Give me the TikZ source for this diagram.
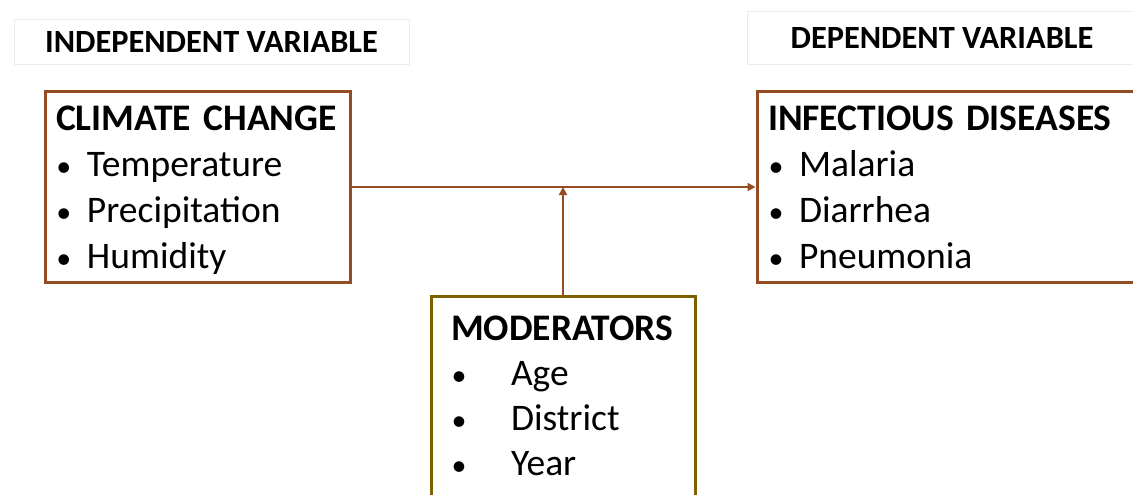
\documentclass[tikz,border=0pt]{standalone}
\usepackage{fontspec}
\setmainfont{Carlito}
\usetikzlibrary{arrows.meta,positioning}

\definecolor{boxbrown}{RGB}{150,76,34}
\definecolor{modgold}{RGB}{127,96,0}
\definecolor{hdrgray}{RGB}{236,236,236}

% bullet with a fixed indent
\newcommand{\blt}[1]{\makebox[#1][l]{\hspace{0.5pt}{\fontsize{30}{30}\selectfont\textbullet}}}
% line without descender depth
\newcommand{\nodp}[1]{\raisebox{0pt}[\height][0pt]{#1}}

\begin{document}
\begin{tikzpicture}[
  x=1pt, y=-1pt,
  hdr/.style={draw=hdrgray, line width=0.8pt, font=\fontsize{32.4}{34}\selectfont\bfseries},
  varbox/.style={draw=boxbrown, line width=3pt, align=left, inner xsep=11pt,
    font=\fontsize{37.5}{46}\selectfont},
  modbox/.style={varbox, draw=modgold},
  arr/.style={-{Triangle[length=8pt,width=8pt]}, draw=boxbrown, line width=2.2pt}
]
\useasboundingbox (0,0) rectangle (1133,495);

\node[hdr, minimum width=395pt, minimum height=45pt] (hdrl) at (211.5,42) {INDEPENDENT VARIABLE};
\node[hdr, minimum width=390pt, minimum height=53pt] (hdrr) at (942,37.5) {DEPENDENT VARIABLE};

\node[varbox, text width=283pt, minimum height=190pt] (clim) at (197.5,187)
  {{\bfseries CLIMATE CHANGE}\\
   \blt{31pt}Temperature\\
   \blt{31pt}Precipitation\\
   \blt{31pt}\nodp{Humidity}};
\node[varbox, text width=366pt, minimum height=190pt] (infd) at (951,187)
  {{\bfseries INFECTIOUS DISEASES}\\
   \blt{31pt}Malaria\\
   \blt{31pt}Diarrhea\\
   \blt{31pt}Pneumonia};
\node[modbox, text width=224pt, minimum height=200pt, inner xsep=20pt] (mod) at (563,396)
  {{\bfseries MODERATORS}\\[-1pt]
   \blt{60pt}Age\\[-1pt]
   \blt{60pt}District\\[-1pt]
   \blt{60pt}Year};

\draw[arr] (clim) -- (infd);
\draw[arr] (mod) -- (mod |- clim.east);
\end{tikzpicture}
\end{document}
